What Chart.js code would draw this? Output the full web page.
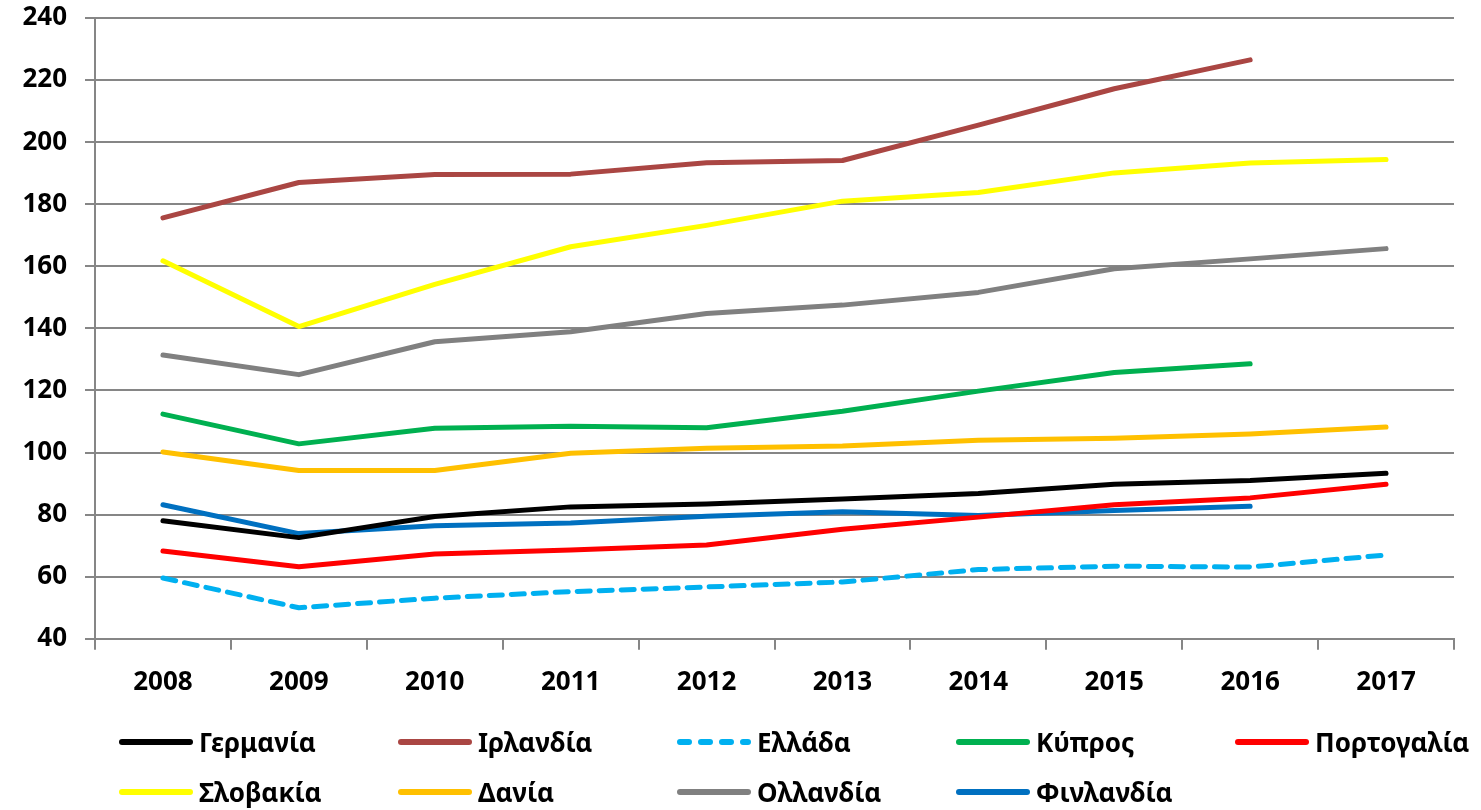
<!DOCTYPE html>
<html>
<head>
<meta charset="utf-8">
<script src="https://cdn.jsdelivr.net/npm/chart.js"></script>
<style>
  body { margin: 0; background: #fff; }
  #wrap { position: relative; width: 1481px; height: 810px; }
  #legend { position: absolute; left: 0; top: 0; width: 1481px; height: 810px; pointer-events: none; }
  .item { position: absolute; display: flex; align-items: center; font-family: "Noto Sans", sans-serif; font-weight: bold; font-size: 26px; color: #000; white-space: nowrap; }
  .item svg { margin-right: 5px; }
</style>
</head>
<body>
<div id="wrap">
  <canvas id="lineGrafico" width="1481" height="810"></canvas>
  <div id="legend"></div>
</div>
<script>
// dados
const anos = ['2008', '2009', '2010', '2011', '2012', '2013', '2014', '2015', '2016', '2017'];
const paises = ['Γερμανία', 'Ιρλανδία', 'Ελλάδα', 'Κύπρος', 'Πορτογαλία', 'Σλοβακία', 'Δανία', 'Ολλανδία', 'Φινλανδία'];
const germania   = [78, 72.6, 79.4, 82.5, 83.4, 85, 86.8, 89.8, 91, 93.3];
const irlandia   = [175.6, 187, 189.6, 189.7, 193.4, 194.1, 205.5, 217.2, 226.5, null];
const ellada     = [59.6, 50, 53.1, 55.2, 56.7, 58.3, 62.3, 63.4, 63.1, 67];
const kypros     = [112.4, 102.8, 107.8, 108.5, 108, 113.3, 119.8, 125.8, 128.6, null];
const portogalia = [68.3, 63.2, 67.3, 68.6, 70.2, 75.3, 79.2, 83.2, 85.4, 89.8];
const slovakia   = [161.8, 140.6, 154.2, 166.3, 173.2, 181, 183.8, 190.1, 193.3, 194.4];
const dania      = [100.2, 94.2, 94.2, 99.8, 101.4, 102.1, 104, 104.6, 106, 108.2];
const ollandia   = [131.4, 125.1, 135.7, 138.9, 144.8, 147.5, 151.6, 159.2, 162.4, 165.7];
const finlandia  = [83.2, 73.9, 76.4, 77.3, 79.5, 80.9, 79.7, 81.3, 82.7, null];
const yTicks = [40, 60, 80, 100, 120, 140, 160, 180, 200, 220, 240];

const series = [germania, irlandia, ellada, kypros, portogalia, slovakia, dania, ollandia, finlandia];
const cores = ['#000000', '#AA4643', '#00B0F0', '#00B050', '#FF0000', '#FFFF00', '#FFC000', '#808080', '#0070C0'];
const tracejado = [[], [], [13, 9], [], [], [], [], [], []];

const fonte = { family: '"Noto Sans", sans-serif', weight: 'bold', size: 26 };
const cinza = '#868686';

let lineGrafico = document.getElementById('lineGrafico');

const dataLine = {
  labels: anos,
  datasets: series.map((s, i) => ({
    label: paises[i],
    data: s,
    borderColor: cores[i],
    backgroundColor: cores[i],
    borderWidth: 5,
    borderDash: tracejado[i],
    borderCapStyle: 'round',
    borderJoinStyle: 'round',
    pointRadius: 0,
    tension: 0,
    fill: false
  }))
};

const configLine = {
  type: 'line',
  data: dataLine,
  options: {
    responsive: false,
    animation: false,
    layout: { padding: { top: 18, right: 27, bottom: 95, left: 0 } },
    plugins: { legend: { display: false }, tooltip: { enabled: false } },
    scales: {
      x: {
        offset: true,
        grid: { drawOnChartArea: false, offset: true, tickLength: 11, color: cinza, lineWidth: 2 },
        border: { color: cinza, width: 2 },
        ticks: { color: '#000', font: fonte, padding: 17, maxRotation: 0 }
      },
      y: {
        min: 40,
        max: 240,
        afterFit: (scale) => { scale.width = 95; scale.paddingTop = 0; scale.paddingBottom = 0; },
        afterBuildTicks: (scale) => { scale.ticks = yTicks.map(v => ({ value: v })); },
        grid: { color: cinza, lineWidth: 2, tickLength: 10 },
        border: { color: cinza, width: 2 },
        ticks: { color: '#000', font: fonte, padding: 18 }
      }
    }
  }
};

let myLineGrafico = new Chart(lineGrafico, configLine);

// legenda
const legend = document.getElementById('legend');
paises.forEach((nome, i) => {
  const col = i % 5, row = Math.floor(i / 5);
  const el = document.createElement('div');
  el.className = 'item';
  el.style.left = (118 + col * 279) + 'px';
  el.style.top = (724 + row * 50) + 'px';
  const dash = tracejado[i].length ? 'stroke-dasharray="9 12"' : '';
  el.innerHTML = '<svg width="76" height="10"><line x1="4" y1="5" x2="72" y2="5" stroke="' + cores[i] +
    '" stroke-width="6" stroke-linecap="round" ' + dash + '/></svg><span>' + nome + '</span>';
  legend.appendChild(el);
});
</script>
</body>
</html>
